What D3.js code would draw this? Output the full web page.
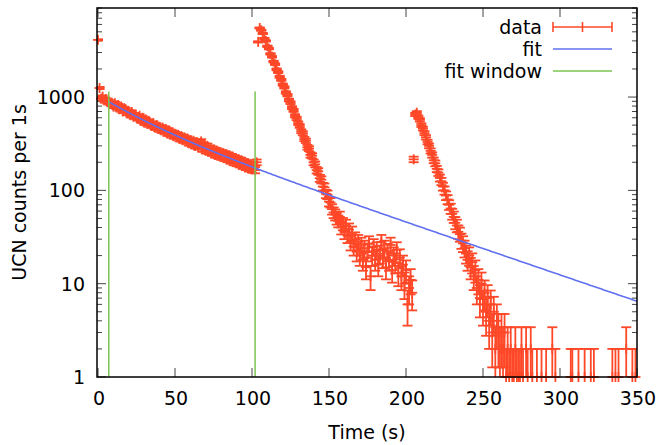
<!DOCTYPE html>
<html lang="en">

<head>
    <meta charset="utf-8" />
    <title>UCN counts</title>
    <script type="text/javascript" src="https://cdn.jsdelivr.net/npm/d3@7"></script>
    <style type="text/css">
        body {
            margin: 0;
            background: white;
        }
        text {
            font-family: "DejaVu Sans", sans-serif;
            font-size: 19px;
            fill: black;
        }
    </style>
</head>

<body>
    <script type="text/javascript">
        // counts per 1 s bin, bin i starts at t = i seconds
        var counts = [
            4100, 1250, 960, 1010, 920, 950, 880, 905, 850, 870,
            790, 860, 770, 820, 740, 790, 700, 760, 735, 665,
            700, 640, 690, 615, 650, 600, 585, 630, 555, 600,
            530, 575, 515, 555, 500, 490, 525, 470, 500, 455,
            480, 440, 470, 425, 455, 405, 440, 395, 420, 380,
            405, 370, 395, 355, 380, 345, 370, 335, 360, 320,
            345, 310, 340, 300, 330, 290, 320, 335, 275, 305,
            265, 300, 260, 285, 250, 275, 240, 268, 235, 258,
            228, 252, 222, 245, 215, 238, 208, 230, 200, 222,
            196, 215, 190, 210, 183, 202, 178, 196, 172, 190,
            168, 186, 165, 200, 3900, 5500, 5200, 4800, 4250, 4000,
            3500, 3300, 2900, 2700, 2400, 2250, 1980, 1850, 1650, 1530,
            1360, 1270, 1120, 1050, 930, 870, 770, 720, 630, 590,
            525, 490, 430, 410, 355, 340, 290, 280, 240, 235,
            200, 190, 165, 160, 135, 130, 110, 108, 92, 90,
            76, 74, 63, 58, 55, 50, 47, 52, 40, 44,
            36, 42, 33, 38, 28, 35, 25, 30, 22, 28,
            20, 26, 18, 24, 15, 22, 27, 12, 20, 25,
            18, 23, 16, 21, 28, 19, 24, 15, 22, 18,
            26, 14, 20, 17, 23, 13, 19, 12, 16, 10,
            14, 6, 9, 11, 8, 215, 650, 680, 610, 570,
            500, 460, 410, 370, 330, 300, 265, 240, 210, 195,
            170, 155, 136, 125, 110, 100, 88, 80, 70, 64,
            56, 52, 45, 42, 36, 34, 29, 27, 24, 21,
            18, 20, 15, 17, 12, 14, 9, 11, 7, 10,
            6, 8, 5, 7, 4, 6, 3, 5, 2, 4,
            3, 2, 3, 2, 3, 1, 2, 1, 2, 1,
            1, 2, 1, 1, 1, 2, 1, 0, 2, 1,
            0, 2, 1, 0, 0, 1, 0, 0, 1, 0,
            0, 1, 0, 0, 0, 2, 0, 1, 0, 0,
            0, 0, 0, 0, 0, 0, 0, 1, 1, 0,
            0, 0, 1, 0, 0, 0, 1, 0, 0, 0,
            1, 0, 1, 0, 0, 0, 0, 0, 0, 0,
            0, 0, 0, 0, 1, 0, 1, 0, 1, 0,
            0, 0, 0, 2, 0, 0, 0, 1, 0, 1,
            0
        ];

        // fitted double exponential and the window it was fitted in
        var fitA = 426, fitTau1 = 28, fitB = 611, fitTau2 = 77;
        var fitWindow = [7, 102];
        var windowTop = 1150;

        var xTicks = [0, 50, 100, 150, 200, 250, 300, 350];
        var yTicks = [1, 10, 100, 1000];
        var legendLabels = ["data", "fit", "fit window"];

        var w = 659;
        var h = 445;
        var margin = { top: 8, right: 22, bottom: 68, left: 97 };
        var red = "#ff4828";
        var blue = "#6070f0";
        var green = "#7cc451";

        var xScale = d3.scaleLinear()
            .domain([0, 350])
            .range([margin.left + 1, w - margin.right]);
        var yScale = d3.scaleLog()
            .domain([1, 9000])
            .range([h - margin.bottom, margin.top]);

        var svg = d3.select("body")
            .append("svg")
            .attr("width", w)
            .attr("height", h);

        svg.append("clipPath")
            .attr("id", "plotclip")
            .append("rect")
            .attr("x", margin.left)
            .attr("y", margin.top)
            .attr("width", w - margin.left - margin.right)
            .attr("height", h - margin.top - margin.bottom);

        var x0 = margin.left, x1 = w - margin.right;
        var y0 = h - margin.bottom, y1 = margin.top;

        // ticks, gnuplot style: inward and mirrored
        var tickG = svg.append("g").attr("stroke", "#444").attr("stroke-width", 1);
        xTicks.forEach(function(t) {
            var x = xScale(t);
            tickG.append("line").attr("x1", x).attr("x2", x).attr("y1", y0).attr("y2", y0 - 9);
            tickG.append("line").attr("x1", x).attr("x2", x).attr("y1", y1).attr("y2", y1 + 9);
        });
        for (var e = 0; e < 4; e++) {
            for (var m = 1; m < 10; m++) {
                var v = m * Math.pow(10, e);
                if (v > 9000) continue;
                var len = m === 1 ? 9 : 5;
                var y = yScale(v);
                tickG.append("line").attr("x1", x0).attr("x2", x0 + len).attr("y1", y).attr("y2", y);
                tickG.append("line").attr("x1", x1).attr("x2", x1 - len).attr("y1", y).attr("y2", y);
            }
        }

        svg.selectAll("text.xtick")
            .data(xTicks)
            .enter()
            .append("text")
            .attr("class", "xtick")
            .attr("x", function(d) { return xScale(d) + 1; })
            .attr("y", y0 + 28)
            .attr("text-anchor", "middle")
            .text(function(d) { return d; });

        svg.selectAll("text.ytick")
            .data(yTicks)
            .enter()
            .append("text")
            .attr("class", "ytick")
            .attr("x", x0 - 12)
            .attr("y", function(d) { return yScale(d) + 7; })
            .attr("text-anchor", "end")
            .text(function(d) { return d; });

        svg.append("text")
            .attr("x", (x0 + x1) / 2)
            .attr("y", h - 6)
            .attr("text-anchor", "middle")
            .text("Time (s)");

        svg.append("text")
            .attr("transform", "translate(26," + ((y0 + y1) / 2) + ") rotate(-90)")
            .attr("text-anchor", "middle")
            .text("UCN counts per 1s");

        // data with sqrt(N) error bars (bars clipped, point markers not)
        var pts = counts.map(function(c, i) { return { t: i, n: c }; })
            .filter(function(d) { return d.n > 0; });
        var capW = 5;
        var bars = svg.append("g")
            .attr("clip-path", "url(#plotclip)")
            .attr("stroke", red)
            .attr("stroke-width", 1.8);
        pts.forEach(function(d) {
            var x = xScale(d.t);
            var err = Math.sqrt(d.n);
            var yHi = yScale(d.n + err);
            var lo = d.n - err;
            var yLo = lo > 0 ? yScale(lo) : y0 + 2;
            bars.append("line").attr("x1", x).attr("x2", x).attr("y1", yLo).attr("y2", yHi);
            bars.append("line").attr("x1", x - capW).attr("x2", x + capW).attr("y1", yHi).attr("y2", yHi);
            if (lo > 0) {
                bars.append("line").attr("x1", x - capW).attr("x2", x + capW).attr("y1", yLo).attr("y2", yLo);
            }
        });

        var marks = svg.append("g").attr("stroke", red).attr("stroke-width", 1.8);
        pts.forEach(function(d) {
            var x = xScale(d.t);
            var y = yScale(d.n);
            marks.append("line").attr("x1", x - 5).attr("x2", x + 5).attr("y1", y).attr("y2", y);
            marks.append("line").attr("x1", x).attr("x2", x).attr("y1", y - 5).attr("y2", y + 5);
        });

        var plot = svg.append("g").attr("clip-path", "url(#plotclip)");

        // fit curve
        var fitT = d3.range(fitWindow[0], 350.5, 0.5);
        var fitLine = d3.line()
            .x(function(t) { return xScale(t); })
            .y(function(t) {
                return yScale(fitA * Math.exp(-t / fitTau1) + fitB * Math.exp(-t / fitTau2));
            });
        plot.append("path")
            .datum(fitT)
            .attr("d", fitLine)
            .attr("fill", "none")
            .attr("stroke", blue)
            .attr("stroke-width", 1.6);

        // fit window markers
        plot.selectAll("line.window")
            .data(fitWindow)
            .enter()
            .append("line")
            .attr("x1", function(d) { return xScale(d); })
            .attr("x2", function(d) { return xScale(d); })
            .attr("y1", y0)
            .attr("y2", yScale(windowTop))
            .attr("stroke", green)
            .attr("stroke-width", 1.5);

        // border
        svg.append("rect")
            .attr("x", x0)
            .attr("y", y1)
            .attr("width", x1 - x0)
            .attr("height", y0 - y1)
            .attr("fill", "none")
            .attr("stroke", "black")
            .attr("stroke-width", 1.5);

        // key
        var keyX = 542, keyL = 553, keyR = 612;
        var key = svg.append("g");
        legendLabels.forEach(function(lab, i) {
            var ky = 27 + i * 22;
            key.append("text")
                .attr("x", keyX)
                .attr("y", ky + 7)
                .attr("text-anchor", "end")
                .text(lab);
            var col = [red, blue, green][i];
            key.append("line").attr("x1", keyL).attr("x2", keyR).attr("y1", ky).attr("y2", ky)
                .attr("stroke", col).attr("stroke-width", 1.6);
            if (i === 0) {
                [keyL, (keyL + keyR) / 2, keyR].forEach(function(kx) {
                    key.append("line").attr("x1", kx).attr("x2", kx).attr("y1", ky - 5).attr("y2", ky + 5)
                        .attr("stroke", col).attr("stroke-width", 1.6);
                });
            }
        });
    </script>
</body>

</html>
